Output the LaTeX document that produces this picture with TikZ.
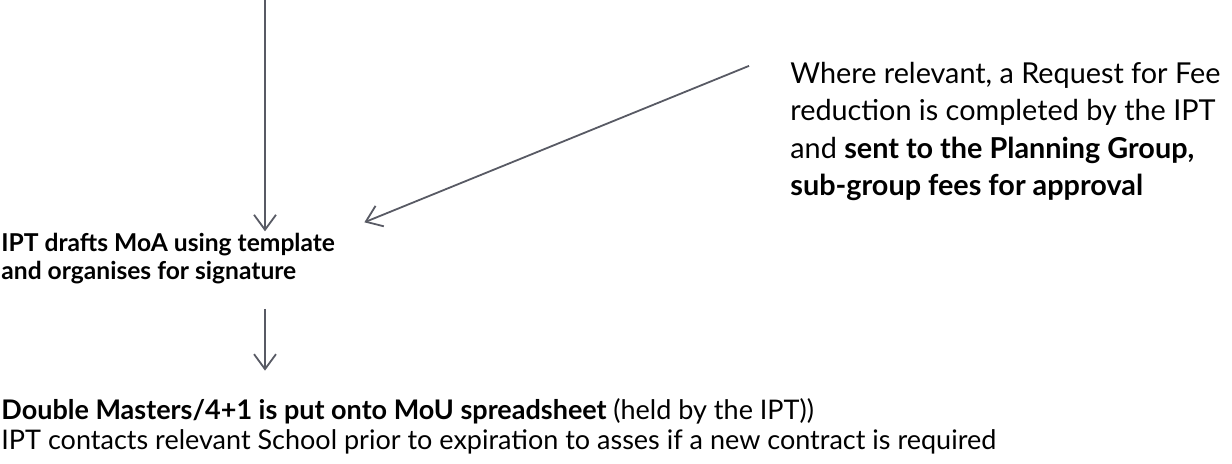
\documentclass[tikz,border=0pt]{standalone}
\usepackage{fontspec}
\setmainfont{Lato}
\usetikzlibrary{arrows.meta}
\definecolor{arrowgrey}{RGB}{88,90,100}
\tikzset{
    flow-arrow/.style = {draw=arrowgrey, line width=0.9pt, -{Straight Barb[length=7.5pt, width=11pt, line width=0.9pt]}},
    stage-text/.style = {inner sep=0pt, anchor=base west, align=left, font=\fontsize{12.3pt}{14pt}\selectfont},
}

\begin{document}
\begin{tikzpicture}[x=0.5pt, y=-0.5pt]
\useasboundingbox (0,0) rectangle (1232,464);
\node [stage-text] (moa) at (1,280) {\textbf{IPT drafts MoA using template}\\\textbf{and organises for signature}};
\node [stage-text, font=\fontsize{14.4pt}{18.75pt}\selectfont] (fee) at (790,196) {Where relevant, a Request for Fee\\reduction is completed by the IPT\\and \textbf{sent to the Planning Group,}\\\textbf{sub-group fees for approval}};
\node [stage-text, font=\fontsize{13.5pt}{15pt}\selectfont] (mou) at (1,450) {\textbf{Double Masters/4+1 is put onto MoU spreadsheet} (held by the IPT))\\IPT contacts relevant School prior to expiration to asses if a new contract is required};
\coordinate (top) at (265,0);
\coordinate (fee-tail) at ([xshift=-20.5pt, yshift=-2pt]fee.north west);
\draw [flow-arrow] (top) -- ([yshift=1pt]top |- moa.north);
\draw [flow-arrow] ([yshift=-12pt]top |- moa.south) -- ([yshift=14pt]top |- mou.north);
\draw [flow-arrow] (fee-tail) -- ([xshift=14.5pt, yshift=5.5pt]moa.north east);
\end{tikzpicture}
\end{document}
